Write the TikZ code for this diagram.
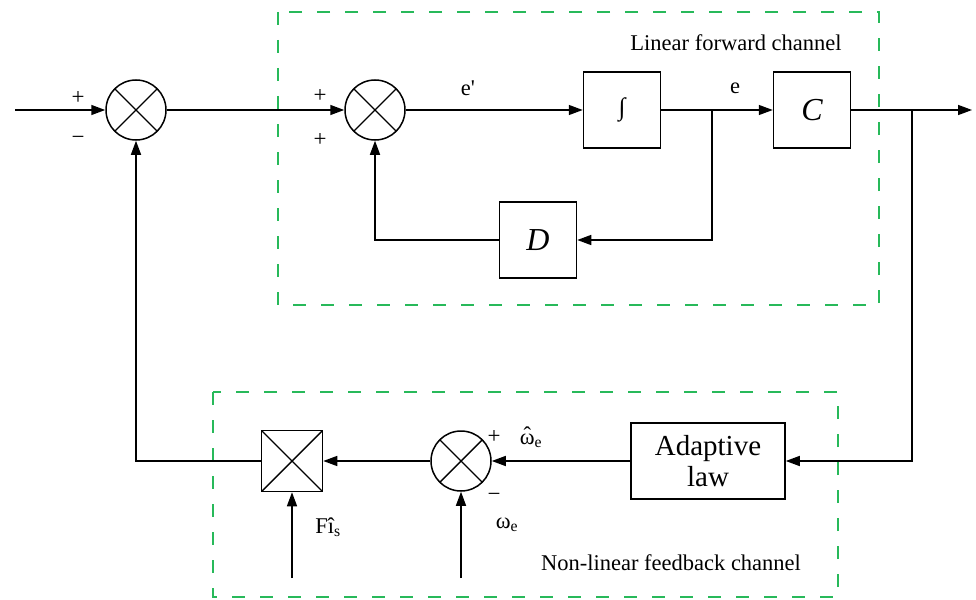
\documentclass[tikz,border=0pt]{standalone}
\usepackage{fontspec}
\setmainfont{Liberation Serif}
\usetikzlibrary{arrows.meta}
\definecolor{changreen}{RGB}{40,185,90}
\newcommand{\hatomega}{\ooalign{ω\cr\hidewidth\raisebox{0.2ex}{ˆ}\hidewidth\cr}}

\begin{document}
\begin{tikzpicture}[x=1pt, y=-1pt,
  blk/.style={draw, line width=1.5pt, minimum width=77pt,
              minimum height=76pt, inner sep=2pt},
  xcross/.style={path picture={\draw[line width=1.4pt]
      (path picture bounding box.north west) -- (path picture bounding box.south east)
      (path picture bounding box.north east) -- (path picture bounding box.south west);}},
  sumj/.style={draw, circle, line width=1.5pt, minimum size=60pt,
               inner sep=0pt, xcross},
  mulj/.style={draw, line width=1.5pt, minimum size=61pt,
               inner sep=0pt, xcross},
  arr/.style={-{Triangle[length=14pt, width=10pt]}, line width=1.5pt},
  chan/.style={draw=changreen, line width=1.4pt, dash pattern=on 13pt off 15pt},
  lbl/.style={font=\fontsize{22.5}{26}\selectfont, inner sep=1pt},
  sgn/.style={font=\fontsize{23}{25}\selectfont, inner sep=0pt}
]
\useasboundingbox (0,0) rectangle (976,599);

% Channel frames
\draw[chan] (278,12) rectangle (879,305);
\draw[chan] (213,392) rectangle (838,597);
\node[lbl] at (736,43)  (linlbl) {Linear forward channel};
\node[lbl] at (671,563) (nonlbl) {Non-linear feedback channel};

% Forward path
\node[sumj] at (136,110) (sumin)  {};
\node[sumj] at (375,110) (sumlin) {};
\node[blk, font=\fontsize{25}{27}\selectfont] at (622,110) (integ) {∫};
\node[blk, font=\fontsize{32}{34}\selectfont\itshape] at (812,110) (ctrl) {C};
\node[blk, font=\fontsize{32}{34}\selectfont\itshape] at (538,240) (dblk) {D};

\coordinate (in)  at (15,110);
\coordinate (out) at (972,110);
\coordinate (br1) at (712,110);
\coordinate (br2) at (912,110);

% Feedback path
\node[blk, minimum width=154pt, align=center,
      font=\fontsize{29}{31}\selectfont] at (708,461) (adapt) {Adaptive\\law};
\node[sumj] at (461,461) (sumw) {};
\node[mulj] at (292,461) (mult) {};
\coordinate (wsrc) at (461,578);
\coordinate (fsrc) at (292,578);

% Signs and signal labels
\node[sgn] at (78,98)   (p1) {+};
\node[sgn] at (78,140)  (m1) {−};
\node[sgn] at (320,96)  (p2) {+};
\node[sgn] at (320,140) (p3) {+};
\node[sgn] at (494,437) (p4) {+};
\node[sgn] at (494,497) (m2) {−};
\node[lbl] at (468,88)  (eplbl) {e\textquotesingle};
\node[lbl] at (735,88)  (elbl)  {e};
\node[lbl] at (531,441) (whlbl) {\hatomega\textsubscript{e}};
\node[lbl] at (507,525) (wlbl)  {ω\textsubscript{e}};
\node[lbl] at (328,527) (flbl)  {Fî\textsubscript{s}};

% Arrows
\draw[arr] (in)          -- (sumin.west);
\draw[arr] (sumin.east)  -- (sumlin.west);
\draw[arr] (sumlin.east) -- (integ.west);
\draw[arr] (integ.east)  -- (ctrl.west);
\draw[arr] (ctrl.east)   -- (out);
\draw[arr] (br1)         |- (dblk.east);
\draw[arr] (dblk.west)   -| (sumlin.south);
\draw[arr] (br2)         |- (adapt.east);
\draw[arr] (adapt.west)  -- (sumw.east);
\draw[arr] (sumw.west)   -- (mult.east);
\draw[arr] (wsrc)        -- (sumw.south);
\draw[arr] (fsrc)        -- (mult.south);
\draw[arr] (mult.west)   -| (sumin.south);

\end{tikzpicture}
\end{document}
